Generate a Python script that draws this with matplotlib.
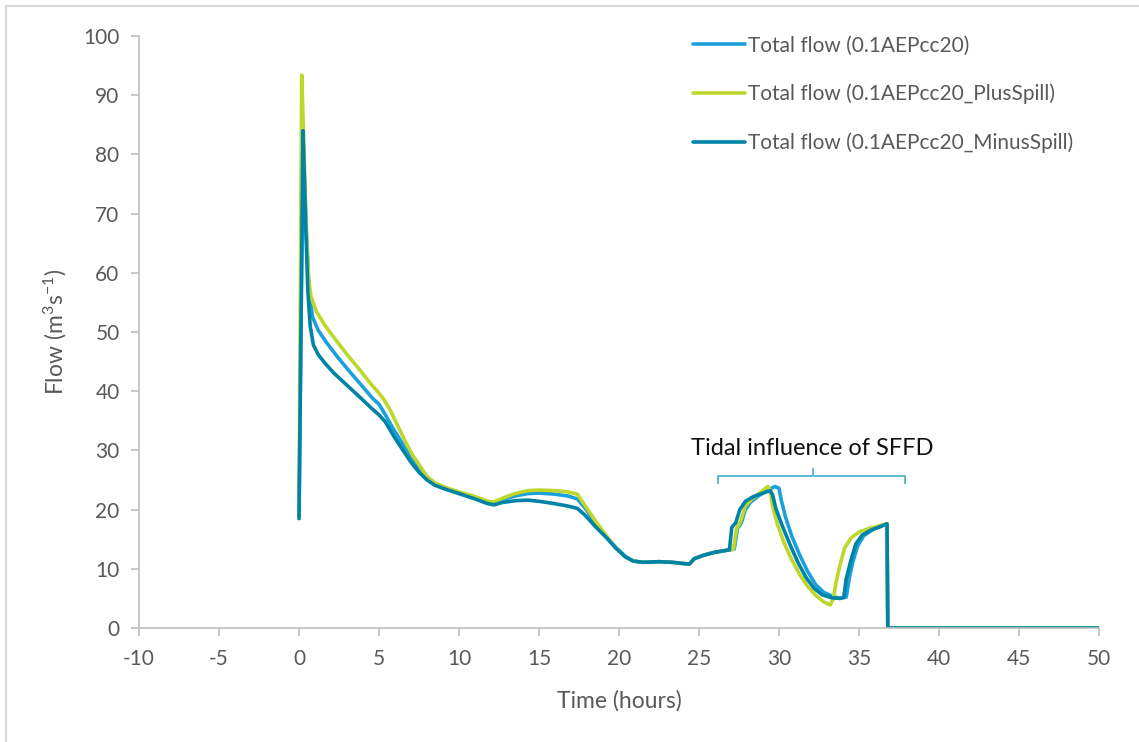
import matplotlib
matplotlib.use("Agg")
import matplotlib.pyplot as plt
from matplotlib.patches import Rectangle

plt.rcParams['font.family'] = ['Lato', 'DejaVu Sans']
plt.rcParams['axes.unicode_minus'] = False
plt.rcParams['mathtext.default'] = 'regular'

# shared low-flow stretch between the two events
t_mid = [20.9, 21.5, 22.5, 23.3, 24, 24.4, 24.7, 25.3, 26.0, 26.9]
q_mid = [11.3, 11.1, 11.2, 11.1, 10.9, 10.8, 11.7, 12.3, 12.8, 13.2]

# Total flow (0.1AEPcc20)
t_base = ([0, 0.25, 0.45, 0.65, 0.85, 1.2, 1.7, 2.4, 3.2, 4.0, 4.6, 5.0, 5.4, 5.9, 6.5, 7.0,
           7.5, 8.0, 8.5, 9.2, 10, 11, 11.8, 12.2, 12.7, 13.5, 14.3, 15, 16, 16.8, 17.4, 17.9,
           18.5, 19.2, 19.8, 20.4] + t_mid +
          [27.2, 27.4, 27.65, 27.9, 28.2, 28.7, 29.3, 29.75, 30.0, 30.15, 30.4, 30.8, 31.3,
           31.8, 32.3, 32.8, 33.4, 33.8, 34.2, 34.4, 34.6, 34.9, 35.3, 35.9, 36.4, 36.75, 36.8, 50])
q_base = ([18.5, 83, 67, 56.5, 52.5, 50.3, 48.3, 45.8, 43.2, 40.7, 38.8, 37.8, 36, 33.6, 31, 28.8,
           26.9, 25.2, 24.3, 23.6, 22.9, 22.1, 21.3, 21.2, 21.7, 22.3, 22.7, 22.8, 22.6, 22.3, 21.8, 20.2,
           17.8, 15.5, 13.6, 12.1] + q_mid +
          [13.3, 16.8, 17.8, 20.0, 21.2, 22.3, 23.3, 23.9, 23.6, 21.5, 18.8, 15.5, 12.3,
           9.5, 7.3, 6.0, 5.3, 5.0, 5.2, 8.5, 11.0, 13.8, 15.6, 16.7, 17.2, 17.6, 0, 0])

# Total flow (0.1AEPcc20_PlusSpill)
t_plus = ([0, 0.17, 0.3, 0.45, 0.6, 0.75, 1.1, 1.6, 2.2, 3.0, 3.8, 4.5, 4.9, 5.3, 5.7, 6.2, 6.7,
           7.1, 7.6, 8.0, 8.5, 9.2, 10, 11, 11.8, 12.2, 12.7, 13.5, 14.3, 15, 16, 16.8, 17.4, 17.9,
           18.5, 19.2, 19.8, 20.4] + t_mid +
          [27.15, 27.35, 27.6, 27.9, 28.3, 28.8, 29.3, 29.45, 29.6, 29.9, 30.3, 30.8, 31.3,
           31.8, 32.3, 32.8, 33.2, 33.4, 33.55, 33.8, 34.1, 34.5, 35.0, 35.6, 36.2, 36.75, 36.8, 50])
q_plus = ([18.5, 93.4, 82, 68, 59, 56, 53.4, 51.2, 49, 46.2, 43.6, 41.2, 40, 38.6, 36.8, 34, 31.2,
           29.2, 27.2, 25.6, 24.5, 23.7, 23, 22.2, 21.4, 21.3, 21.9, 22.7, 23.2, 23.3, 23.2, 23.0, 22.6, 20.6,
           18.2, 15.6, 13.5, 12.0] + q_mid +
          [13.3, 16.8, 18.0, 20.6, 21.8, 22.8, 23.9, 23.2, 20.5, 17.5, 14.5, 11.5, 9.0,
           7.0, 5.5, 4.4, 3.9, 5.0, 7.5, 10.5, 13.5, 15.2, 16.2, 16.8, 17.2, 17.6, 0, 0])

# Total flow (0.1AEPcc20_MinusSpill)
t_minus = ([0, 0.25, 0.4, 0.55, 0.7, 0.9, 1.2, 1.6, 2.2, 3.0, 3.8, 4.5, 5.0, 5.4, 5.9, 6.5, 7.0,
            7.5, 8.0, 8.5, 9.2, 10, 11, 11.8, 12.2, 12.7, 13.5, 14.3, 15, 16, 16.8, 17.4, 17.9,
            18.5, 19.2, 19.8, 20.4] + t_mid +
           [27.05, 27.3, 27.55, 27.9, 28.4, 29.0, 29.45, 29.6, 29.8, 30.2, 30.7, 31.2, 31.7,
            32.2, 32.7, 33.3, 33.8, 34.05, 34.2, 34.5, 34.8, 35.2, 35.8, 36.3, 36.75, 36.8, 50])
q_minus = ([18.5, 84, 70, 57, 51, 47.8, 46.2, 44.8, 43, 41, 39, 37.2, 36, 34.8, 32.5, 30, 28,
            26.3, 25, 24.1, 23.4, 22.7, 21.8, 21.0, 20.8, 21.2, 21.5, 21.6, 21.4, 21.0, 20.6, 20.2, 19.0,
            17.2, 15.3, 13.5, 12.0] + q_mid +
           [17.0, 17.8, 20.0, 21.4, 22.2, 22.8, 23.2, 22.5, 20.2, 17.3, 14.0, 11.0, 8.5,
            6.7, 5.6, 5.1, 5.0, 5.2, 8.3, 11.5, 14.2, 15.7, 16.6, 17.1, 17.6, 0, 0])

labels = ['Total flow (0.1AEPcc20)', 'Total flow (0.1AEPcc20_PlusSpill)',
          'Total flow (0.1AEPcc20_MinusSpill)']
colors = ['#1AA1DB', '#BFD62B', '#0083A6']

x_ticks = list(range(-10, 51, 5))
y_ticks = list(range(0, 101, 10))

fig = plt.figure(figsize=(11.39, 7.42), dpi=100)
ax = fig.add_axes([139 / 1139, 1 - 628 / 742, 960 / 1139, 592 / 742])

# outer chart frame
fig.patches.append(Rectangle((6 / 1139, -0.05), 1.1, 1 - 6 / 742 + 0.05, transform=fig.transFigure,
                             fill=False, edgecolor='#D9D9D9', linewidth=1.5))

series = [(t_base, q_base), (t_plus, q_plus), (t_minus, q_minus)]
for (t, q), lab, c in zip(series, labels, colors):
    ax.plot(t, q, color=c, lw=2.6, label=lab, solid_joinstyle='round', solid_capstyle='round')

ax.set_xlim(-10, 50)
ax.set_ylim(0, 100)
ax.set_xticks(x_ticks)
ax.set_yticks(y_ticks)
ax.tick_params(axis='both', colors='#BFBFBF', labelcolor='#595959', labelsize=15,
               length=6, width=1.2)
ax.tick_params(axis='x', pad=9)
ax.tick_params(axis='y', pad=8)
for s in ['top', 'right']:
    ax.spines[s].set_visible(False)
for s in ['left', 'bottom']:
    ax.spines[s].set_color('#BFBFBF')
    ax.spines[s].set_linewidth(1.2)

ax.set_xlabel('Time (hours)', fontsize=16.5, color='#595959', labelpad=15)
ax.set_ylabel('Flow (m$^{3}$s$^{-1}$)', fontsize=16.5, color='#595959', labelpad=10)

leg = ax.legend(loc='upper left', bbox_to_anchor=(674 / 1139, 1 - 17 / 742),
                bbox_transform=fig.transFigure, frameon=False, fontsize=15,
                handlelength=2.5, handletextpad=0.15, labelspacing=1.35)
for txt in leg.get_texts():
    txt.set_color('#595959')

# tidal influence bracket
bx0, bx1, bmid = 26.2, 37.9, 32.1
ax.plot([bx0, bx0, bx1, bx1], [24.5, 25.7, 25.7, 24.5], color='#5BB9D6', lw=1.4)
ax.plot([bmid, bmid], [25.7, 26.9], color='#5BB9D6', lw=1.4)
ax.text(bmid, 30.4, 'Tidal influence of SFFD', ha='center', va='center', fontsize=17,
        color='#111111')

fig.savefig('out.png', dpi=100)
